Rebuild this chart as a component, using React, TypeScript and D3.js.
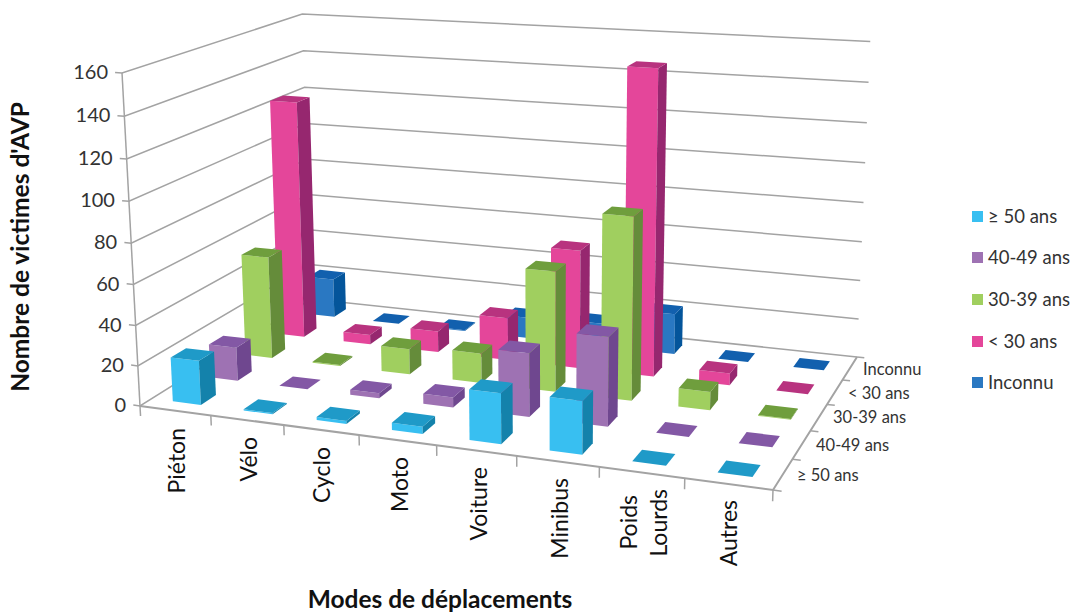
import React from "react";
import * as d3 from "d3";

const categories = ["Piéton", "Vélo", "Cyclo", "Moto", "Voiture", "Minibus", "Poids|Lourds", "Autres"];
const seriesNames = ["≥ 50 ans", "40-49 ans", "30-39 ans", "< 30 ans", "Inconnu"];
const over50 = [22, 0.6, 1.5, 3.5, 24, 25, 0, 0];
const age40 = [17, 0, 2.5, 5, 31, 43, 0, 0];
const age30 = [53, 0.6, 13, 15, 60, 90, 9, 0.4];
const under30 = [125, 5, 11, 22, 60.5, 153, 6, 0];
const unknown = [21, 0, 0.5, 11, 12, 21, 0, 0];
const seriesValues = [over50, age40, age30, under30, unknown];
const yTicks = [0, 20, 40, 60, 80, 100, 120, 140, 160];
const fills = ["#38BFF1", "#9E72B3", "#A0CF5F", "#E4469A", "#2A78C2"];
const tops = ["#1F9AC8", "#8358A5", "#6F9E3D", "#B8337F", "#1260AE"];
const sides = ["#1482AB", "#6F478F", "#658C3A", "#96276F", "#04559B"];

const FL = [140, 406], FR = [773, 490], BR = [857, 357], BL = [311, 299];
const VP = [542, 7852];
const S = -333 / 7779;
const dx1 = FR[0] - BR[0], dx2 = BL[0] - BR[0], sx = FL[0] - FR[0] + BR[0] - BL[0];
const dy1 = FR[1] - BR[1], dy2 = BL[1] - BR[1], sy = FL[1] - FR[1] + BR[1] - BL[1];
const det = dx1 * dy2 - dx2 * dy1;
const g = (sx * dy2 - dx2 * sy) / det, h = (dx1 * sy - sx * dy1) / det;
const a = FR[0] - FL[0] + g * FR[0], b = BL[0] - FL[0] + h * BL[0];
const d = FR[1] - FL[1] + g * FR[1], e = BL[1] - FL[1] + h * BL[1];

const zScale = d3.scaleLinear().domain([0, 160]).range([0, 1]);
const xBand = d3.scaleBand<number>().domain(d3.range(categories.length)).range([0, 1]).paddingInner(0.6).paddingOuter(0.3);
const yBand = d3.scaleBand<number>().domain(d3.range(seriesNames.length)).range([0, 1]).paddingInner(0.6).paddingOuter(0.3);

function proj(x: number, y: number, v: number): [number, number] {
  const z = zScale(v) * S;
  const w = g * x + h * y + 1 + z;
  return [(a * x + b * y + FL[0] + z * VP[0]) / w, (d * x + e * y + FL[1] + z * VP[1]) / w];
}
const path = d3.line<[number, number]>();
const poly = (pts: [number, number][]) => path(pts) + "Z";

const GRID = "#A3A3A3";
const FONT = "Lato, sans-serif";

export default function App() {
  const bars: React.ReactNode[] = [];
  for (let r = seriesNames.length - 1; r >= 0; r--) {
    categories.forEach((_, c) => {
      const x0 = xBand(c)!, x1 = x0 + xBand.bandwidth();
      const y0 = yBand(r)!, y1 = y0 + yBand.bandwidth();
      const v = seriesValues[r][c];
      bars.push(
        <g key={r + "-" + c}>
          <path d={poly([proj(x0, y0, 0), proj(x1, y0, 0), proj(x1, y0, v), proj(x0, y0, v)])} fill={fills[r]} />
          <path d={poly([proj(x1, y0, 0), proj(x1, y1, 0), proj(x1, y1, v), proj(x1, y0, v)])} fill={sides[r]} />
          <path d={poly([proj(x0, y0, v), proj(x1, y0, v), proj(x1, y1, v), proj(x0, y1, v)])} fill={tops[r]} />
        </g>
      );
    });
  }
  const catStep = 1 / categories.length;
  const rowStep = 1 / seriesNames.length;
  const catTop = [428, 437, 447, 457, 467, 478, 0, 500];
  const catX = [185, 257, 330, 408, 487, 568, 0, 737];
  const rowLabelX = [797, 816, 833, 848, 863];
  const rowLabelY = [476, 446, 418, 394, 370];
  const legendY = [217, 258, 300, 342, 383];
  return (
    <svg width={1072} height={614} style={{ position: "absolute", left: 0, top: 0, background: "#fff" }}>
      {yTicks.map((t) => {
        const p0 = proj(0, 0, t), p1 = proj(0, 1, t), p2 = proj(1, 1, t), pt = proj(-0.012, 0, t);
        return (
          <g key={t}>
            <path d={path([pt, p0, p1, p2])!} fill="none" stroke={GRID} strokeWidth={1.5} />
            <text x={p0[0] - 14} y={p0[1] + 1} textAnchor="end" dominantBaseline="middle" fontFamily={FONT} fontSize={20} fill="#333">{t}</text>
          </g>
        );
      })}
      <path d={path([proj(0, 0, 0), proj(0, 0, 160)])!} stroke={GRID} strokeWidth={1.5} fill="none" />
      <path d={path([proj(0, 0, 0), proj(1, 0, 0), proj(1, 1, 0)])!} stroke={GRID} strokeWidth={2} fill="none" />
      {d3.range(categories.length + 1).map((i) => (
        <path key={i} d={path([proj(i * catStep, 0, 0), proj(i * catStep, 0, -5)])!} stroke={GRID} strokeWidth={1.5} />
      ))}
      {d3.range(seriesNames.length + 1).map((i) => (
        <path key={i} d={path([proj(1, i * rowStep, 0), proj(1.012, i * rowStep, 0)])!} stroke={GRID} strokeWidth={1.5} />
      ))}
      {bars}
      {categories.map((cat, i) => {
        const lines = cat.split("|");
        return lines.map((ln, j) => (
          <text key={i + "-" + j} transform={`translate(${lines.length > 1 ? 637 + j * 30 : catX[i]},${lines.length > 1 ? (j ? 489 : 495) : catTop[i]}) rotate(-90)`} textAnchor="end" fontFamily={FONT} fontSize={23} fill="#111">{ln}</text>
        ));
      })}
      {seriesNames.map((s, i) => (
        <text key={s} x={rowLabelX[i]} y={rowLabelY[i] + 5} fontFamily={FONT} fontSize={16.5} fill="#333">{s}</text>
      ))}
      {seriesNames.map((s, i) => (
        <g key={"l" + i}>
          <rect x={972} y={legendY[i] - 6} width={11} height={11} fill={fills[i]} />
          <text x={988} y={legendY[i] + 6} fontFamily={FONT} fontSize={18.5} fill="#333">{s}</text>
        </g>
      ))}
      <text x={440} y={608} textAnchor="middle" fontFamily={FONT} fontWeight={700} fontSize={24.5} fill="#111">Modes de déplacements</text>
      <text transform="translate(29,247) rotate(-90)" textAnchor="middle" fontFamily={FONT} fontWeight={700} fontSize={24.5} fill="#111">Nombre de victimes d'AVP</text>
    </svg>
  );
}
